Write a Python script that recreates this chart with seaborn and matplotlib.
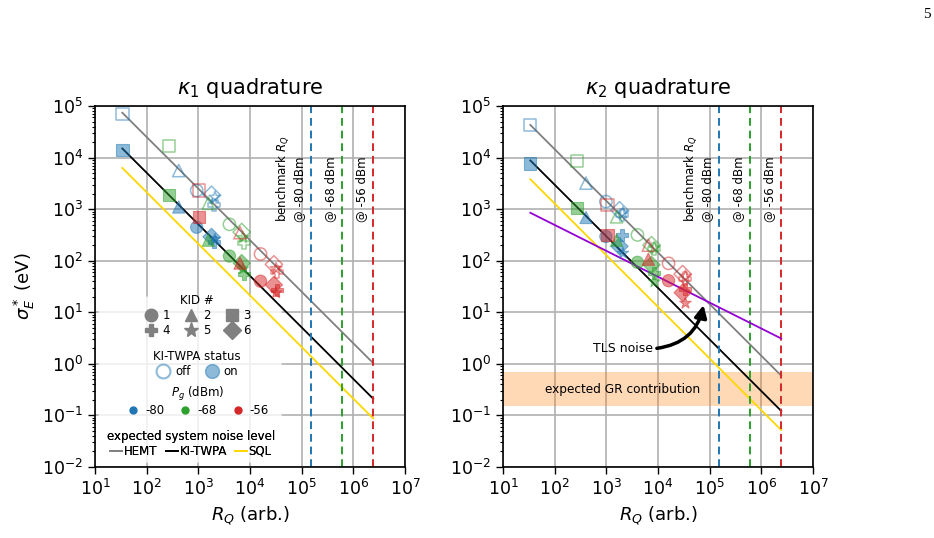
import numpy as np
import pandas as pd
import matplotlib
matplotlib.use("Agg")
import matplotlib.pyplot as plt
import seaborn as sns
from matplotlib.lines import Line2D
from matplotlib.patches import FancyBboxPatch
from matplotlib.ticker import LogLocator, NullLocator

# ---------------- data ----------------
kid_ids = [1, 2, 3, 4, 5, 6]
power_levels = [-80, -68, -56]
power_colors = ["tab:blue", "tab:green", "tab:red"]
kid_markers = {1: "o", 2: "^", 3: "s", 4: "P", 5: "*", 6: "D"}

# kappa_1 quadrature : R_Q and sigma_E (off = KI-TWPA off, on = KI-TWPA on), per KID 1..6
k1_rq_m80 = [930, 417, 34, 2.0e3, 2.1e3, 1.8e3]
k1_off_m80 = [2.3e3, 5.6e3, 7.0e4, 1.2e3, 1.7e3, 1.9e3]
k1_on_m80 = [445, 1.1e3, 1.4e4, 230, 260, 290]

k1_rq_m68 = [4.0e3, 1.56e3, 274, 7.6e3, 7.3e3, 6.9e3]
k1_off_m68 = [508, 1.3e3, 1.7e4, 220, 280, 360]
k1_on_m68 = [123, 250, 1.9e3, 55, 70, 90]

k1_rq_m56 = [1.6e4, 6.4e3, 1.03e3, 3.3e4, 3.2e4, 2.9e4]
k1_off_m56 = [135, 350, 2.3e3, 60, 70, 85]
k1_on_m56 = [40, 90, 695, 27, 24, 34]

# kappa_2 quadrature
k2_rq_m80 = [980, 404, 33, 2.0e3, 2.1e3, 1.8e3]
k2_off_m80 = [1.4e3, 3.2e3, 4.3e4, 780, 850, 950]
k2_on_m80 = [295, 690, 7.7e3, 316, 140, 190]

k2_rq_m68 = [4.0e3, 1.58e3, 274, 8.5e3, 8.5e3, 7.5e3]
k2_off_m68 = [316, 710, 8.7e3, 170, 180, 200]
k2_on_m68 = [93, 250, 1.04e3, 57, 39, 83]

k2_rq_m56 = [1.6e4, 6.5e3, 1.05e3, 3.3e4, 3.4e4, 3.0e4]
k2_off_m56 = [89, 200, 1.2e3, 45, 50, 55]
k2_on_m56 = [41, 107, 316, 28, 15, 24]

# expected system noise levels (end points of straight lines on log-log axes)
line_rq = [33.8, 2.43e6]
k1_hemt = [7.4e4, 1.03]
k1_twpa = [1.5e4, 0.21]
k1_sql = [6.3e3, 0.087]
k2_hemt = [4.3e4, 0.59]
k2_twpa = [8.8e3, 0.122]
k2_sql = [3.8e3, 0.052]
k2_tls = [850, 3.1]

# benchmark R_Q for each readout power
bench_rq = [1.52e5, 6.1e5, 2.43e6]
bench_labels = ["benchmark $R_Q$\n@ -80 dBm", "@ -68 dBm", "@ -56 dBm"]

gr_band = [0.15, 0.70]

# ---------------- figure ----------------
plt.rcParams["font.family"] = ["DejaVu Sans"]
plt.rcParams["mathtext.fontset"] = "dejavusans"

fig = plt.figure(figsize=(9.34, 5.38), dpi=100)
W, H = 934.0, 538.0
ax1 = fig.add_axes([95 / W, 1 - 467 / H, 310 / W, 361 / H])
ax2 = fig.add_axes([503 / W, 1 - 467 / H, 310 / W, 361 / H])

panels = {
    ax1: dict(rq=[k1_rq_m80, k1_rq_m68, k1_rq_m56],
              off=[k1_off_m80, k1_off_m68, k1_off_m56],
              on=[k1_on_m80, k1_on_m68, k1_on_m56],
              hemt=k1_hemt, twpa=k1_twpa, sql=k1_sql,
              title=r"$\kappa_1$ quadrature"),
    ax2: dict(rq=[k2_rq_m80, k2_rq_m68, k2_rq_m56],
              off=[k2_off_m80, k2_off_m68, k2_off_m56],
              on=[k2_on_m80, k2_on_m68, k2_on_m56],
              hemt=k2_hemt, twpa=k2_twpa, sql=k2_sql,
              title=r"$\kappa_2$ quadrature"),
}

for ax, p in panels.items():
    ax.set_xscale("log")
    ax.set_yscale("log")
    ax.set_xlim(10, 1e7)
    ax.set_ylim(1e-2, 1e5)

    # noise lines
    for key, col in (("hemt", "gray"), ("twpa", "black"), ("sql", "gold")):
        sns.lineplot(x=line_rq, y=p[key], ax=ax, color=col, lw=1.3, zorder=2)

    # benchmark lines
    for xr, c, lab in zip(bench_rq, power_colors, bench_labels):
        ax.axvline(xr, color=c, ls=(0, (4, 2.5)), lw=1.4, zorder=2)
        ax.annotate(lab, xy=(xr, 560), xytext=(-3.5, 0), textcoords="offset points",
                    rotation=90, ha="right", va="bottom", multialignment="left",
                    fontsize=8.5, zorder=3)

    # data points
    for i, (pw, c) in enumerate(zip(power_levels, power_colors)):
        df = pd.DataFrame({"rq": p["rq"][i], "off": p["off"][i], "on": p["on"][i],
                           "kid": kid_ids})
        sns.scatterplot(data=df, x="rq", y="off", style="kid", markers=kid_markers,
                        color=c, facecolor="none", edgecolor=c, linewidth=1.1,
                        alpha=0.5, s=78, ax=ax, legend=False, zorder=3)
        sns.scatterplot(data=df, x="rq", y="on", style="kid", markers=kid_markers,
                        color=c, edgecolor=c, linewidth=0.8,
                        alpha=0.5, s=78, ax=ax, legend=False, zorder=3)

    ax.xaxis.set_major_locator(LogLocator(base=10, numticks=20))
    ax.xaxis.set_minor_locator(NullLocator())
    ax.yaxis.set_major_locator(LogLocator(base=10, numticks=20))
    ax.yaxis.set_minor_locator(LogLocator(base=10, subs=np.arange(2, 10), numticks=40))
    ax.grid(True, which="major", color="#b0b0b0", lw=1.2)
    ax.set_axisbelow(True)
    ax.tick_params(axis="both", which="major", labelsize=12.5, length=5, width=1)
    ax.tick_params(axis="y", which="minor", length=2.5, width=0.8)
    for sp in ax.spines.values():
        sp.set_linewidth(1.2)
    ax.set_xlabel("$R_Q$ (arb.)", fontsize=13)
    ax.set_ylabel("")
    ax.set_title(p["title"], fontsize=15, pad=9)

ax1.set_ylabel(r"$\sigma_E^*$ (eV)", fontsize=13)

# TLS noise line, GR band, annotation (kappa_2)
sns.lineplot(x=line_rq, y=k2_tls, ax=ax2, color="darkviolet", lw=1.3, zorder=2)
ax2.axhspan(gr_band[0], gr_band[1], color="tab:orange", alpha=0.3, lw=0, zorder=1)
ax2.text(65, 0.32, "expected GR contribution", fontsize=8.7, va="center", ha="left")
ax2.text(560, 2.0, "TLS noise", fontsize=9, va="center", ha="left")
ax2.annotate("", xy=(7.6e4, 13.8), xytext=(9.5e3, 2.0),
             arrowprops=dict(arrowstyle="-|>", connectionstyle="arc3,rad=0.35",
                             lw=2.5, color="black", mutation_scale=18,
                             shrinkA=0, shrinkB=0))

# ---------------- legends (kappa_1) ----------------
bg = FancyBboxPatch((0.012, 0.012), 0.59, 0.46, boxstyle="round,pad=0,rounding_size=0.02",
                    transform=ax1.transAxes, facecolor="white", edgecolor="none",
                    alpha=0.8, zorder=1.5)
ax1.add_patch(bg)

lfs = 8.5
common = dict(fontsize=lfs, title_fontsize=lfs, frameon=False, borderpad=0.2,
              labelspacing=0.15, handletextpad=0.4)

kid_order = [1, 4, 2, 5, 3, 6]
kid_handles = [Line2D([], [], ls="none", marker=kid_markers[k], color="gray",
                      markersize=9 if k != 5 else 11) for k in kid_order]
leg1 = ax1.legend(kid_handles, [str(k) for k in kid_order], title="KID #", ncol=3,
                  loc="center", bbox_to_anchor=(0.33, 0.42), columnspacing=1.2,
                  handlelength=1.2, **common)
ax1.add_artist(leg1)

tw_handles = [Line2D([], [], ls="none", marker="o", markersize=10, markerfacecolor="none",
                     markeredgecolor="tab:blue", markeredgewidth=1.5, alpha=0.5),
              Line2D([], [], ls="none", marker="o", markersize=10, color="tab:blue", alpha=0.5)]
leg2 = ax1.legend(tw_handles, ["off", "on"], title="KI-TWPA status", ncol=2,
                  loc="center", bbox_to_anchor=(0.33, 0.286), columnspacing=1.2,
                  handlelength=1.2, **common)
ax1.add_artist(leg2)

pg_handles = [Line2D([], [], ls="none", marker="o", markersize=5, color=c)
              for c in power_colors]
leg3 = ax1.legend(pg_handles, [str(v) for v in power_levels], title="$P_g$ (dBm)", ncol=3,
                  loc="center", bbox_to_anchor=(0.33, 0.183), columnspacing=1.2,
                  handlelength=1.2, **common)
ax1.add_artist(leg3)

ln_handles = [Line2D([], [], color=c, lw=1.3) for c in ("gray", "black", "gold")]
leg4 = ax1.legend(ln_handles, ["HEMT", "KI-TWPA", "SQL"], title="expected system noise level",
                  ncol=3, loc="center", bbox_to_anchor=(0.31, 0.064), columnspacing=0.7,
                  handlelength=1.0, **dict(common, handletextpad=0.15))
ax1.add_artist(leg4)
for lg in (leg1, leg2, leg3, leg4):
    lg.set_zorder(6)

fig.text(0.996, 0.985, "5", fontsize=11, family="Liberation Serif", ha="right", va="top")

fig.savefig("out.png", dpi=100)
